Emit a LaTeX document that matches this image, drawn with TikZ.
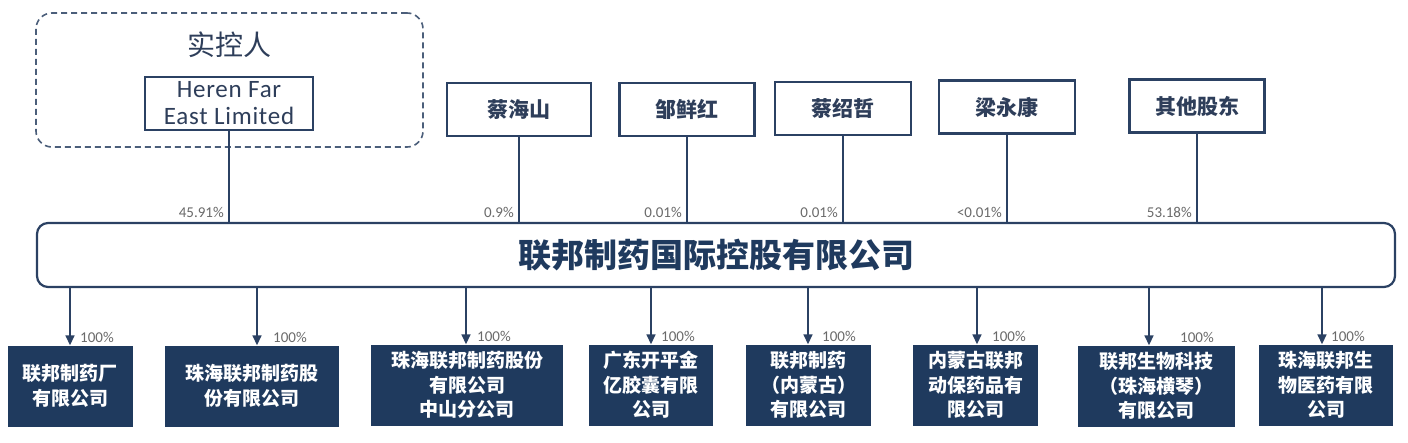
\documentclass[tikz,border=0pt]{standalone}
\usepackage{fontspec}
\setmainfont{Carlito}
\newfontfamily\latn[LetterSpace=3]{Carlito}
\newfontfamily\cjk{Noto Sans CJK SC}
\usetikzlibrary{arrows.meta,calc}
\definecolor{navy}{HTML}{1F3A5E}
\definecolor{edge}{HTML}{2B4163}
\definecolor{txt}{HTML}{2E3E5A}
\definecolor{pct}{HTML}{6A6A6A}
\tikzset{
  holder/.style={draw=edge,line width=2.4pt,minimum height=53pt,inner sep=0pt,
    font=\cjk\bfseries\fontsize{21}{24}\selectfont,text=txt},
  sub/.style={fill=navy,draw=none,minimum height=81pt,inner sep=0pt,align=center,
    font=\cjk\bfseries\fontsize{19}{24.5}\selectfont,text=white},
  conn/.style={draw=edge,line width=1.6pt},
  arr/.style={draw=edge,line width=1.6pt,-{Triangle[width=9pt,length=10pt]}},
  pctlab/.style={font=\fontsize{15}{16}\selectfont,text=pct,inner sep=0pt},
}
\begin{document}
\begin{tikzpicture}[x=1pt,y=-1pt]
\useasboundingbox[fill=white] (0,0) rectangle (1408,442);
% controller group
\node[draw=edge!85,dashed,dash pattern=on 6pt off 4pt,line width=1.6pt,rounded corners=16pt,
  minimum width=387pt,minimum height=134pt] (ctrl) at (229.5,80) {};
\node[font=\cjk\fontsize{28}{30}\selectfont,text=txt] (ctrltitle) at (229,45) {实控人};
\node[draw=edge,line width=2.4pt,minimum width=168pt,minimum height=53pt,inner sep=0pt,
  align=center,font=\latn\fontsize{25}{27}\selectfont,text=txt] (heren) at (229,103.5) {Heren Far\\East Limited};
% other holders
\node[holder,minimum width=144pt] (cai) at (519,109.5) {蔡海山};
\node[holder,minimum width=135pt] (zou) at (687,109.5) {邹鲜红};
\node[holder,minimum width=136pt] (caish) at (843,108.5) {蔡绍哲};
\node[holder,minimum width=136pt] (liang) at (1007,107) {梁永康};
\node[holder,minimum width=135pt] (other) at (1197,106) {其他股东};
% main company
\node[draw=edge,line width=2.2pt,rounded corners=11pt,minimum width=1358pt,minimum height=64pt,
  font=\cjk\bfseries\fontsize{33}{36}\selectfont,text=navy] (main) at (716,255) {联邦制药国际控股有限公司};
% shareholder links
\foreach \n/\p in {heren/45.91\%,cai/0.9\%,zou/0.01\%,caish/0.01\%,liang/<0.01\%,other/53.18\%}{
  \draw[conn] (\n.south) -- (\n.south |- main.north);
  \node[pctlab,anchor=south east] at ($(\n.south |- main.north)+(-5,-4)$) {\p};
}
% subsidiaries
\node[sub,minimum width=125pt] (s1) at (70.5,386) {联邦制药厂\\有限公司};
\node[sub,minimum width=174pt] (s2) at (252,386) {珠海联邦制药股\\份有限公司};
\node[sub,minimum width=192pt] (s3) at (467,385) {珠海联邦制药股份\\有限公司\\中山分公司};
\node[sub,minimum width=124pt] (s4) at (651,385) {广东开平金\\亿胶囊有限\\公司};
\node[sub,minimum width=125pt] (s5) at (808.5,385) {联邦制药\\（内蒙古）\\有限公司};
\node[sub,minimum width=125pt] (s6) at (975.5,385) {内蒙古联邦\\动保药品有\\限公司};
\node[sub,minimum width=157pt] (s7) at (1156.5,386) {联邦生物科技\\（珠海横琴）\\有限公司};
\node[sub,minimum width=134pt] (s8) at (1326,385) {珠海联邦生\\物医药有限\\公司};
\coordinate (a1) at (70,0);
\coordinate (a2) at (257,0);
\coordinate (a3) at (466,0);
\coordinate (a4) at (651,0);
\coordinate (a5) at (808,0);
\coordinate (a6) at (977,0);
\coordinate (a7) at (1149,0);
\coordinate (a8) at (1322,0);
\foreach \i/\dx in {1/10,2/16,3/11,4/10,5/14,6/15,7/31,8/9}{
  \draw[arr] (a\i |- main.south) -- (a\i |- s\i.north);
  \node[pctlab,anchor=south west] at ($(a\i |- s\i.north)+(\dx,-2)$) {100\%};
}
\end{tikzpicture}
\end{document}
